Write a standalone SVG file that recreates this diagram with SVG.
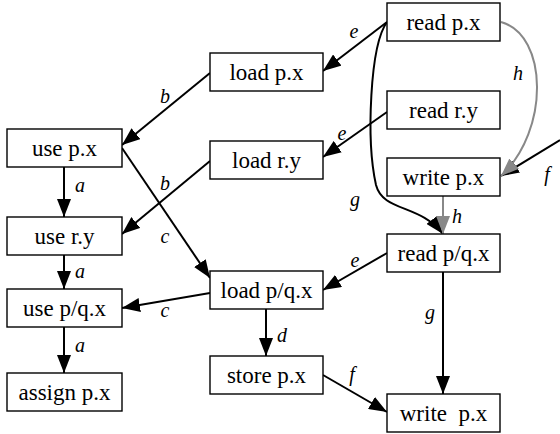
<svg xmlns="http://www.w3.org/2000/svg" width="560" height="434" viewBox="0 0 560 434">
<defs>
<marker id="ab" markerUnits="userSpaceOnUse" markerWidth="18" markerHeight="14" refX="18" refY="7" orient="auto"><path d="M0,0 L18,7 L0,14 z" fill="#000"/></marker>
<marker id="ag" markerUnits="userSpaceOnUse" markerWidth="18" markerHeight="14" refX="18" refY="7" orient="auto"><path d="M0,0 L18,7 L0,14 z" fill="#888"/></marker>
</defs>
<style>
.n rect{fill:#fff;stroke:#000;stroke-width:1.4}
.n text{font-family:'Liberation Serif','Times New Roman',serif;font-size:23px;text-anchor:middle;fill:#000;white-space:pre}
.e{fill:none;stroke:#000;stroke-width:2;marker-end:url(#ab)}
.g{fill:none;stroke:#888;stroke-width:2;marker-end:url(#ag)}
.l{font-family:'Liberation Serif','Times New Roman',serif;font-style:italic;font-size:20px;text-anchor:middle;fill:#000}
</style>
<rect width="560" height="434" fill="#fff"/>
<g id="connectors">
<path class="e" d="M387,22 L323,71"/>
<path class="e" d="M210,73 L122,145"/>
<path class="e" d="M387,112 L323,157"/>
<path class="e" d="M210,161 L122,234"/>
<path class="e" d="M122,148 L210,278"/>
<path class="e" d="M210,293 L122,308"/>
<path class="e" d="M64,167 L64,217"/>
<path class="e" d="M64,255 L64,289"/>
<path class="e" d="M64,327 L64,373"/>
<path class="e" d="M266,309 L266,356"/>
<path class="e" d="M323,375 L387,412"/>
<path class="e" d="M443,272 L443,394"/>
<path class="e" d="M387,253 L323,290"/>
<path class="e" d="M387,22 C370,45 366,140 376,185 C383,212 420,204 443,234"/>
<path class="e" d="M560,140 L501,176"/>
<path class="g" d="M501,22 C548,35 550,130 501,176"/>
<path class="g" d="M443,196 L443,234"/>
<text class="l" x="354" y="38">e</text>
<text class="l" x="165" y="103">b</text>
<text class="l" x="342" y="140">e</text>
<text class="l" x="165" y="190">b</text>
<text class="l" x="165" y="243">c</text>
<text class="l" x="165" y="317">c</text>
<text class="l" x="80" y="192">a</text>
<text class="l" x="80" y="278">a</text>
<text class="l" x="80" y="352">a</text>
<text class="l" x="282" y="342">d</text>
<text class="l" x="352" y="381">f</text>
<text class="l" x="430" y="319">g</text>
<text class="l" x="355" y="267">e</text>
<text class="l" x="355" y="206">g</text>
<text class="l" x="518" y="80">h</text>
<text class="l" x="457" y="223">h</text>
<text class="l" x="547" y="181">f</text>
</g>
<g id="read_px" class="n"><rect x="387" y="3" width="113" height="38"/><text x="443.5" y="29.5">read p.x</text></g>
<g id="load_px" class="n"><rect x="210" y="53" width="113" height="38"/><text x="266.5" y="79.5">load p.x</text></g>
<g id="read_ry" class="n"><rect x="387" y="91" width="113" height="38"/><text x="443.5" y="117.5">read r.y</text></g>
<g id="use_px" class="n"><rect x="7" y="129" width="115" height="38"/><text x="64.5" y="155.5">use p.x</text></g>
<g id="load_ry" class="n"><rect x="210" y="141" width="113" height="38"/><text x="266.5" y="167.5">load r.y</text></g>
<g id="write_px" class="n"><rect x="387" y="158" width="113" height="38"/><text x="443.5" y="184.5">write p.x</text></g>
<g id="use_ry" class="n"><rect x="7" y="217" width="115" height="38"/><text x="64.5" y="243.5">use r.y</text></g>
<g id="read_pqx" class="n"><rect x="387" y="234" width="113" height="38"/><text x="443.5" y="260.5">read p/q.x</text></g>
<g id="load_pqx" class="n"><rect x="210" y="271" width="113" height="38"/><text x="266.5" y="297.5">load p/q.x</text></g>
<g id="use_pqx" class="n"><rect x="7" y="289" width="115" height="38"/><text x="64.5" y="315.5">use p/q.x</text></g>
<g id="store_px" class="n"><rect x="210" y="356" width="113" height="38"/><text x="266.5" y="382.5">store p.x</text></g>
<g id="assign_px" class="n"><rect x="7" y="373" width="115" height="38"/><text x="64.5" y="399.5">assign p.x</text></g>
<g id="write_px2" class="n"><rect x="387" y="394" width="113" height="38"/><text x="443.5" y="420.5">write  p.x</text></g>
</svg>
